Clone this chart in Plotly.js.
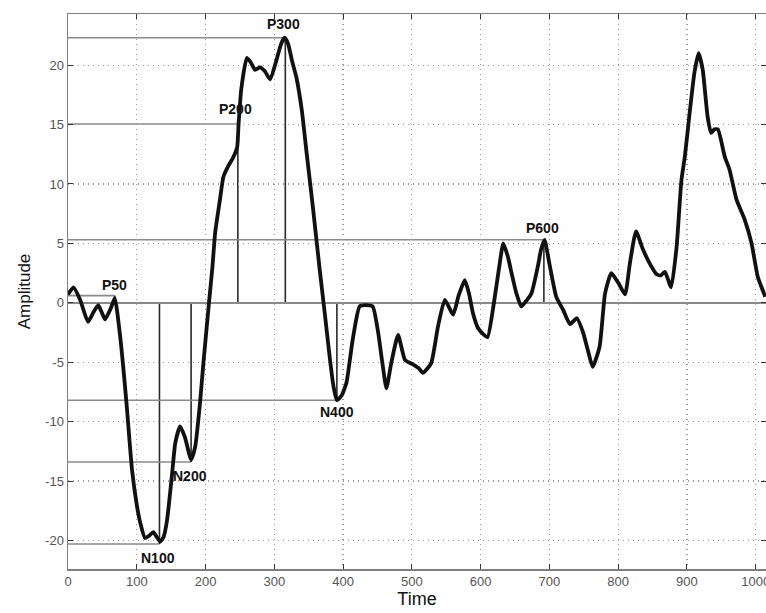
<!DOCTYPE html>
<html>
<head>
<meta charset="utf-8">
<script src="https://cdn.plot.ly/plotly-3.0.1.min.js"></script>
<style>html,body{margin:0;padding:0;background:#fff;}#chart{width:766px;height:613px;}</style>
</head>
<body>
<div id="chart"></div>
<script>
// ERP waveform
const time = [0,8,18,29,37,44,49,54,62,68,76,85,93,100,105,112,118,124,129,134,139,144,151,156,163,170,179,185,192,197,205,210,214,221,226,233,240,246,248,252,260,266,272,279,286,294,303,310,315,320,326,332,340,347,356,366,374,381,386,391,398,405,414,424,432,443,451,457,463,470,480,490,502,510,516,528,538,548,560,568,577,583,589,596,603,610,620,627,633,640,645,652,659,667,674,683,688,693,700,710,720,730,740,749,756,763,773,781,790,800,810,817,826,836,846,856,862,868,877,885,892,897,904,911,917,923,930,935,940,945,955,962,972,984,994,1003,1014];
const amplitude = [0.7,1.3,0.2,-1.6,-0.8,-0.2,-0.8,-1.4,-0.5,0.4,-2.9,-8.4,-14,-17,-18.5,-19.8,-19.6,-19.3,-19.7,-20.1,-19.7,-18.3,-14.6,-11.8,-10.4,-11.3,-13.2,-12.1,-8.4,-5.0,0,3.0,5.9,8.7,10.6,11.5,12.2,13.1,15.0,18.0,20.6,20.2,19.6,19.8,19.5,18.8,20.4,21.8,22.3,21.8,20.3,19.0,16.2,12.6,8.1,2.8,-1.2,-4.8,-7.0,-8.2,-7.8,-6.7,-3.1,-0.3,-0.2,-0.3,-2.5,-5.0,-7.2,-5.1,-2.7,-4.8,-5.2,-5.5,-5.9,-5.1,-2.0,0.25,-1.0,0.6,1.9,0.8,-0.9,-2.1,-2.6,-2.9,0.25,3.0,5.0,3.8,2.5,0.8,-0.3,0.2,0.8,3.0,4.5,5.3,3.3,0.5,-0.6,-1.8,-1.3,-2.5,-4.0,-5.4,-3.7,0.8,2.5,1.7,0.7,3.3,6.0,4.5,3.3,2.4,2.3,2.6,1.3,4.7,10.3,12.3,16.0,19.4,21.0,19.6,15.7,14.3,14.6,14.6,12.3,11.2,8.7,7.0,5.0,2.2,0.5];

// labelled components
const peakNames = ['P50','N100','N200','P200','P300','N400','P600'];
const peakTimes = [68,133,179,247,316,391,692];
const peakAmps  = [0.6,-20.3,-13.4,15.05,22.3,-8.2,5.3];

// tick labels
const xTicks = [0,100,200,300,400,500,600,700,800,900,1000];
const yTicks = [-20,-15,-10,-5,0,5,10,15,20];

// label placement offsets (layout only)
const labelDX = [0,-2,-2,-3,-2,0,-2];
const labelDY = [0.9,-1.2,-1.2,1.25,1.2,-1.0,1.0];

const shapes = [];
const annotations = [];
peakNames.forEach((name, i) => {
  shapes.push({type:'line', xref:'x', yref:'y', x0:0, x1:peakTimes[i], y0:peakAmps[i], y1:peakAmps[i],
    line:{color:'#8a8a8a', width:1.6}, layer:'below'});
  shapes.push({type:'line', xref:'x', yref:'y', x0:peakTimes[i], x1:peakTimes[i], y0:0, y1:peakAmps[i],
    line:{color:'#2a2a2a', width:1.6}, layer:'below'});
  annotations.push({x:peakTimes[i]+labelDX[i], y:peakAmps[i]+labelDY[i], xref:'x', yref:'y', text:'<b>'+name+'</b>',
    showarrow:false, xanchor:'center', yanchor:'middle',
    font:{family:'Liberation Sans, Arial, sans-serif', size:14, color:'#111'}});
});

const trace = {x: time, y: amplitude, type:'scatter', mode:'lines',
  line:{color:'#111', width:3.8, shape:'spline', smoothing:0.5}, hoverinfo:'skip'};

const tickFont = {family:'Liberation Sans Narrow, Arial Narrow, Liberation Sans, sans-serif', size:13, color:'#555'};

const layout = {
  width:766, height:613,
  margin:{l:68, r:0, t:14, b:44},
  paper_bgcolor:'#ffffff', plot_bgcolor:'#fefefe',
  showlegend:false,
  xaxis:{range:[0,1015], tickvals:xTicks, ticktext:xTicks.map(String),
    ticks:'inside', ticklen:5, tickcolor:'#333', showline:true, linecolor:'#808080', linewidth:1.5, mirror:'ticks',
    showgrid:true, gridcolor:'#9a9a9a', griddash:'1px,4px', gridwidth:1.2, zeroline:false,
    tickfont:tickFont, automargin:false, ticklabeloverflow:'allow',
    title:{text:'Time', font:{family:'Liberation Sans, Arial, sans-serif', size:18, color:'#111'}, standoff:2}},
  yaxis:{range:[-22.4,24.3], tickvals:yTicks, ticktext:yTicks.map(String),
    ticks:'inside', ticklen:5, tickcolor:'#333', showline:true, linecolor:'#808080', linewidth:1.5, mirror:'ticks',
    showgrid:true, gridcolor:'#9a9a9a', griddash:'1px,4px', gridwidth:1.2,
    zeroline:true, zerolinecolor:'#8a8a8a', zerolinewidth:2,
    tickfont:tickFont, automargin:false,
    title:{text:'Amplitude', font:{family:'Liberation Sans, Arial, sans-serif', size:17, color:'#111'}, standoff:10}},
  shapes: shapes,
  annotations: annotations
};

Plotly.newPlot('chart', [trace], layout, {displayModeBar:false, staticPlot:true});
</script>
</body>
</html>
